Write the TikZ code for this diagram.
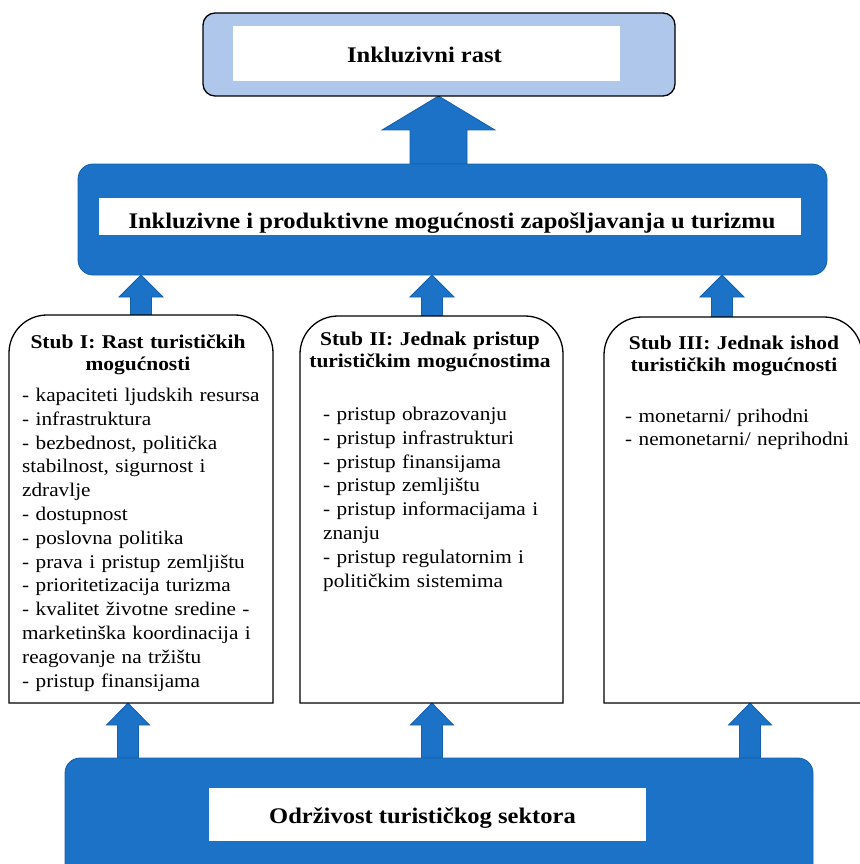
\documentclass[tikz,border=0pt]{standalone}
\usepackage{fontspec}
\setmainfont{Liberation Serif}[FakeStretch=1.1]
\usetikzlibrary{calc}
\definecolor{myblue}{RGB}{27,114,198}
\definecolor{blueedge}{RGB}{22,96,170}
\definecolor{lightblue}{RGB}{174,199,234}
\newcommand\blockup[5]{%
  \draw[barrow] let \p1=#1, \p2=#2 in
  (\x1-#3,\y1) -- (\x1-#3,\y2-#5) -- (\x1-#4,\y2-#5) -- (\x1,\y2)
  -- (\x1+#4,\y2-#5) -- (\x1+#3,\y2-#5) -- (\x1+#3,\y1) -- cycle;}
\begin{document}
\begin{tikzpicture}[x=1pt,y=-1pt,
  box/.style={inner sep=0pt, outer sep=0pt},
  bluebox/.style={box, fill=myblue, draw=blueedge, line width=0.8pt, rounded corners=15pt},
  topbox/.style={box, fill=lightblue, draw=black, line width=1.3pt, rounded corners=12pt},
  whitebox/.style={box, fill=white},
  pillar/.style={fill=white, draw=black, line width=1.3pt},
  barrow/.style={fill=myblue, draw=blueedge, line width=0.8pt},
  bigtitle/.style={inner sep=0pt, anchor=base, font=\fontsize{22.3}{26}\selectfont\bfseries},
  ptitle/.style={inner sep=0pt, anchor=base, text width=250pt, align=center, font=\fontsize{19.5}{22}\selectfont\bfseries},
  plist/.style={inner sep=0pt, anchor=base west, text width=300pt, align=left, font=\fontsize{19.3}{23.8}\selectfont}]
\useasboundingbox (0,0) rectangle (859,864);
% boxes (shapes only, drawn later)
\path node[box, minimum width=472pt, minimum height=83pt] (top) at (439,54.5) {};
\path node[box, minimum width=749pt, minimum height=111pt] (mid) at (452.5,219.5) {};
\path node[box, minimum width=748pt, minimum height=122pt] (bot) at (439,819) {};
\path node[box, minimum width=264pt, minimum height=388pt] (p1) at (141,509) {};
\path node[box, minimum width=263pt, minimum height=387pt] (p2) at (431.5,509.5) {};
\path node[box, minimum width=258pt, minimum height=386pt] (p3) at (733,510) {};
\coordinate (a1) at (141,0);
\coordinate (a2) at (432,0);
\coordinate (a3) at (722,0);
\coordinate (b1) at (128,0);
\coordinate (b2) at (432,0);
\coordinate (b3) at (750,0);
\coordinate (a0) at (438.5,0);
% arrows
\blockup{(a0 |- mid.north)}{(a0 |- top.south)}{28.5pt}{56.5pt}{34pt}
\blockup{(a1 |- p1.north)}{(a1 |- mid.south)}{10.5pt}{22pt}{22pt}
\blockup{(a2 |- p2.north)}{(a2 |- mid.south)}{10.5pt}{22pt}{22pt}
\blockup{(a3 |- p3.north)}{(a3 |- mid.south)}{10.5pt}{22pt}{22pt}
\blockup{(b1 |- bot.north)}{(b1 |- p1.south)}{10.5pt}{21.5pt}{22pt}
\blockup{(b2 |- bot.north)}{(b2 |- p2.south)}{10.5pt}{21.5pt}{22pt}
\blockup{(b3 |- bot.north)}{(b3 |- p3.south)}{10.5pt}{21.5pt}{22pt}
% visible boxes
\node[topbox, minimum width=472pt, minimum height=83pt] at (top) {};
\node[whitebox, minimum width=387pt, minimum height=55pt] (topin) at (426.5,53.5) {};
\node[bluebox, minimum width=749pt, minimum height=111pt] at (mid) {};
\node[whitebox, minimum width=702pt, minimum height=36.5pt] (midin) at (450,216.25) {};
\node[bluebox, minimum width=748pt, minimum height=122pt] at (bot) {};
\node[whitebox, minimum width=437pt, minimum height=53pt] (botin) at (427.5,814.5) {};
\foreach \p in {p1,p2,p3}
  \draw[pillar] (\p.south west) -- ([yshift=-38pt]\p.north west)
    arc[start angle=180, end angle=90, radius=38pt]
    -- ([xshift=-38pt]\p.north east)
    arc[start angle=90, end angle=0, radius=38pt]
    -- (\p.south east) -- cycle;
% texts
\node[bigtitle] (t0) at (424.5,63) {Inkluzivni rast};
\node[bigtitle] (t1) at (452,228) {Inkluzivne i produktivne mogućnosti zapošljavanja u turizmu};
\node[bigtitle] (t2) at (422.5,823) {Održivost turističkog sektora};
\node[ptitle] (h1) at (138,348) {Stub I: Rast turističkih\\ mogućnosti};
\node[ptitle] (h2) at (430,345) {Stub II: Jednak pristup\\ turističkim mogućnostima};
\node[ptitle] (h3) at (734,349) {Stub III: Jednak ishod\\ turističkih mogućnosti};
\node[plist] (l1) at (22,401.5) {- kapaciteti ljudskih resursa\\ - infrastruktura\\ - bezbednost, politička\\ stabilnost, sigurnost i\\ zdravlje\\ - dostupnost\\ - poslovna politika\\ - prava i pristup zemljištu\\ - prioritetizacija turizma\\ - kvalitet životne sredine -\\ marketinška koordinacija i\\ reagovanje na tržištu\\ - pristup finansijama};
\node[plist] (l2) at (323,420.5) {- pristup obrazovanju\\ - pristup infrastrukturi\\ - pristup finansijama\\ - pristup zemljištu\\ - pristup informacijama i\\ znanju\\ - pristup regulatornim i\\ političkim sistemima};
\node[plist] (l3) at (625,422) {- monetarni/ prihodni\\ - nemonetarni/ neprihodni};
\end{tikzpicture}
\end{document}
